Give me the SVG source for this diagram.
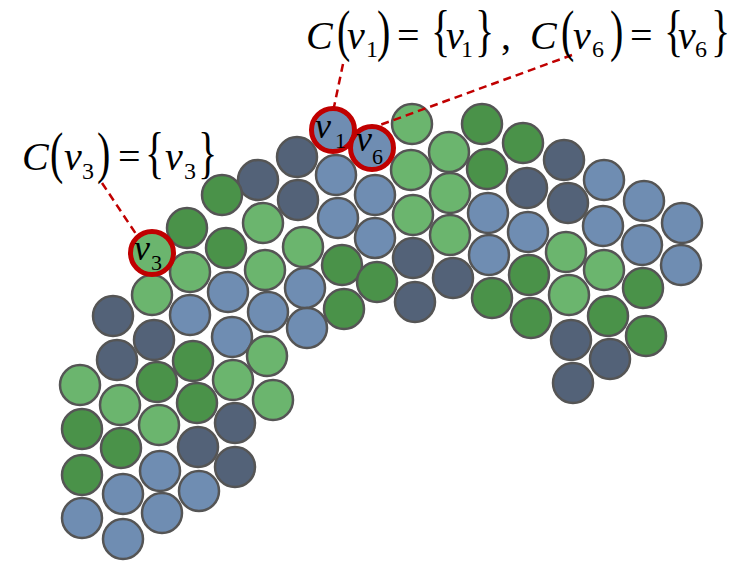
<svg xmlns="http://www.w3.org/2000/svg" width="740" height="570" viewBox="0 0 740 570">
<style>
circle{stroke:#555555;stroke-width:2.5}
.s{fill:#536278}.b{fill:#6F8DB2}.g{fill:#4A9249}.l{fill:#6BB56E}
.hl{stroke:#C00000;stroke-width:5}
.i{font-style:italic}
.m{font-size:40px}.sub{font-size:24px}.cv{font-size:36px}.cs{font-size:22px}
.d{stroke:#C00000;stroke-width:2.5;stroke-dasharray:8 5;fill:none}
</style>
<rect width="740" height="570" fill="#fff"/>
<g id="nodes" font-family="Liberation Serif, Times New Roman, serif" fill="#000">
<g id="n1"><circle class="s" cx="258" cy="180" r="20"/></g>
<g id="n2"><circle class="s" cx="297" cy="157" r="20"/></g>
<g id="n3"><circle class="s" cx="298" cy="200" r="20"/></g>
<g id="n4"><circle class="s" cx="113" cy="316" r="20"/></g>
<g id="n5"><circle class="s" cx="154" cy="340" r="20"/></g>
<g id="n6"><circle class="s" cx="117" cy="360" r="20"/></g>
<g id="n7"><circle class="s" cx="235" cy="423" r="20"/></g>
<g id="n8"><circle class="s" cx="198" cy="447" r="20"/></g>
<g id="n9"><circle class="s" cx="235" cy="467" r="20"/></g>
<g id="n10"><circle class="s" cx="413" cy="258" r="20"/></g>
<g id="n11"><circle class="s" cx="453" cy="278" r="20"/></g>
<g id="n12"><circle class="s" cx="415" cy="302" r="20"/></g>
<g id="n13"><circle class="s" cx="564" cy="160" r="20"/></g>
<g id="n14"><circle class="s" cx="527" cy="188" r="20"/></g>
<g id="n15"><circle class="s" cx="568" cy="203" r="20"/></g>
<g id="n16"><circle class="s" cx="571" cy="340" r="20"/></g>
<g id="n17"><circle class="s" cx="610" cy="359" r="20"/></g>
<g id="n18"><circle class="s" cx="573" cy="383" r="20"/></g>
<g id="n19"><circle class="b" cx="336" cy="175" r="20"/></g>
<g id="n20"><circle class="b" cx="375" cy="195" r="20"/></g>
<g id="n21"><circle class="b" cx="338" cy="218" r="20"/></g>
<g id="n22"><circle class="b" cx="375" cy="238" r="20"/></g>
<g id="n23"><circle class="b" cx="228" cy="292" r="20"/></g>
<g id="n24"><circle class="b" cx="190" cy="315" r="20"/></g>
<g id="n25"><circle class="b" cx="268" cy="312" r="20"/></g>
<g id="n26"><circle class="b" cx="232" cy="337" r="20"/></g>
<g id="n27"><circle class="b" cx="305" cy="288" r="20"/></g>
<g id="n28"><circle class="b" cx="307" cy="328" r="20"/></g>
<g id="n29"><circle class="b" cx="488" cy="213" r="20"/></g>
<g id="n30"><circle class="b" cx="528" cy="232" r="20"/></g>
<g id="n31"><circle class="b" cx="489" cy="255" r="20"/></g>
<g id="n32"><circle class="b" cx="604" cy="180" r="20"/></g>
<g id="n33"><circle class="b" cx="644" cy="201" r="20"/></g>
<g id="n34"><circle class="b" cx="682" cy="223" r="20"/></g>
<g id="n35"><circle class="b" cx="603" cy="226" r="20"/></g>
<g id="n36"><circle class="b" cx="642" cy="245" r="20"/></g>
<g id="n37"><circle class="b" cx="681" cy="265" r="20"/></g>
<g id="n38"><circle class="b" cx="123" cy="494" r="20"/></g>
<g id="n39"><circle class="b" cx="160" cy="471" r="20"/></g>
<g id="n40"><circle class="b" cx="199" cy="491" r="20"/></g>
<g id="n41"><circle class="b" cx="82" cy="518" r="20"/></g>
<g id="n42"><circle class="b" cx="162" cy="513" r="20"/></g>
<g id="n43"><circle class="b" cx="123" cy="539" r="20"/></g>
<g id="n44"><circle class="g" cx="222" cy="195" r="20"/></g>
<g id="n45"><circle class="g" cx="187" cy="228" r="20"/></g>
<g id="n46"><circle class="g" cx="226" cy="248" r="20"/></g>
<g id="n47"><circle class="g" cx="342" cy="265" r="20"/></g>
<g id="n48"><circle class="g" cx="377" cy="282" r="20"/></g>
<g id="n49"><circle class="g" cx="344" cy="309" r="20"/></g>
<g id="n50"><circle class="g" cx="193" cy="361" r="20"/></g>
<g id="n51"><circle class="g" cx="157" cy="382" r="20"/></g>
<g id="n52"><circle class="g" cx="197" cy="403" r="20"/></g>
<g id="n53"><circle class="g" cx="82" cy="429" r="20"/></g>
<g id="n54"><circle class="g" cx="121" cy="448" r="20"/></g>
<g id="n55"><circle class="g" cx="82" cy="475" r="20"/></g>
<g id="n56"><circle class="g" cx="482" cy="124" r="20"/></g>
<g id="n57"><circle class="g" cx="523" cy="143" r="20"/></g>
<g id="n58"><circle class="g" cx="487" cy="169" r="20"/></g>
<g id="n59"><circle class="g" cx="529" cy="275" r="20"/></g>
<g id="n60"><circle class="g" cx="643" cy="288" r="20"/></g>
<g id="n61"><circle class="g" cx="492" cy="298" r="20"/></g>
<g id="n62"><circle class="g" cx="531" cy="318" r="20"/></g>
<g id="n63"><circle class="g" cx="608" cy="316" r="20"/></g>
<g id="n64"><circle class="g" cx="646" cy="336" r="20"/></g>
<g id="n65"><circle class="l" cx="263" cy="223" r="20"/></g>
<g id="n66"><circle class="l" cx="190" cy="272" r="20"/></g>
<g id="n67"><circle class="l" cx="265" cy="270" r="20"/></g>
<g id="n68"><circle class="l" cx="152" cy="295" r="20"/></g>
<g id="n69"><circle class="l" cx="303" cy="247" r="20"/></g>
<g id="n70"><circle class="l" cx="267" cy="356" r="20"/></g>
<g id="n71"><circle class="l" cx="233" cy="380" r="20"/></g>
<g id="n72"><circle class="l" cx="273" cy="400" r="20"/></g>
<g id="n73"><circle class="l" cx="80" cy="385" r="20"/></g>
<g id="n74"><circle class="l" cx="120" cy="405" r="20"/></g>
<g id="n75"><circle class="l" cx="159" cy="425" r="20"/></g>
<g id="n76"><circle class="l" cx="412" cy="124" r="20"/></g>
<g id="n77"><circle class="l" cx="449" cy="152" r="20"/></g>
<g id="n78"><circle class="l" cx="411" cy="170" r="20"/></g>
<g id="n79"><circle class="l" cx="450" cy="193" r="20"/></g>
<g id="n80"><circle class="l" cx="413" cy="215" r="20"/></g>
<g id="n81"><circle class="l" cx="450" cy="235" r="20"/></g>
<g id="n82"><circle class="l" cx="566" cy="252" r="20"/></g>
<g id="n83"><circle class="l" cx="604" cy="270" r="20"/></g>
<g id="n84"><circle class="l" cx="569" cy="295" r="20"/></g>
<g id="v3"><circle class="l hl" cx="152" cy="253" r="21.5"/><text class="i cv" x="134" y="260">v</text><text class="cs" x="151" y="270">3</text></g>
<g id="v1"><circle class="b hl" cx="333" cy="130" r="21.5"/><text class="i cv" x="315" y="138">v</text><text class="cs" x="335" y="148">1</text></g>
<g id="v6"><circle class="b hl" cx="372" cy="148" r="21.5"/><text class="i cv" x="356" y="151">v</text><text class="cs" x="372" y="164">6</text></g>
</g>
<g id="connectors">
<line class="d" x1="343" y1="64" x2="334" y2="107"/>
<line class="d" x1="572" y1="55" x2="380" y2="125"/>
<line class="d" x1="102" y1="183" x2="136" y2="234"/>
</g>
<g id="labels" font-family="Liberation Serif, Times New Roman, serif" fill="#000">
<text class="i m" x="306" y="49">C</text>
<text class="m" transform="translate(337,50) scale(1,1.43)">(</text>
<text class="i m" x="347" y="49">v</text>
<text class="sub" x="366" y="57">1</text>
<text class="m" transform="translate(377,50) scale(1,1.43)">)</text>
<text class="m" x="397" y="49">=</text>
<text class="m" transform="translate(431,50) scale(1,1.43)">{</text>
<text class="i m" x="446" y="49">v</text>
<text class="sub" x="461" y="57">1</text>
<text class="m" transform="translate(475,50) scale(1,1.43)">}</text>
<text class="m" x="501" y="49">,</text>
<text class="i m" x="530" y="49">C</text>
<text class="m" transform="translate(561,50) scale(1,1.43)">(</text>
<text class="i m" x="573" y="49">v</text>
<text class="sub" x="592" y="57">6</text>
<text class="m" transform="translate(610,50) scale(1,1.43)">)</text>
<text class="m" x="630" y="49">=</text>
<text class="m" transform="translate(664,50) scale(1,1.43)">{</text>
<text class="i m" x="678" y="49">v</text>
<text class="sub" x="695" y="57">6</text>
<text class="m" transform="translate(711,50) scale(1,1.43)">}</text>
<text class="i m" x="22" y="170">C</text>
<text class="m" transform="translate(50,172) scale(1,1.43)">(</text>
<text class="i m" x="64" y="170">v</text>
<text class="sub" x="82" y="179">3</text>
<text class="m" transform="translate(97,172) scale(1,1.43)">)</text>
<text class="m" x="118" y="170">=</text>
<text class="m" transform="translate(145,172) scale(1,1.43)">{</text>
<text class="i m" x="165" y="170">v</text>
<text class="sub" x="184" y="179">3</text>
<text class="m" transform="translate(198,172) scale(1,1.43)">}</text>
</g>
</svg>
